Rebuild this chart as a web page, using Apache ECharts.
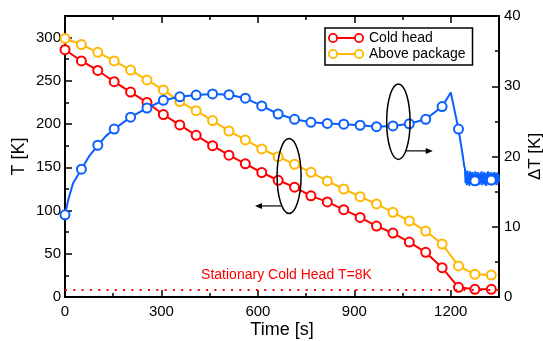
<!DOCTYPE html>
<html><head><meta charset="utf-8">
<script src="https://cdn.jsdelivr.net/npm/echarts@6/dist/echarts.min.js"></script>
<style>html,body{margin:0;padding:0;background:#fff}#c{width:543px;height:341px}</style>
</head><body><div id="c"></div>
<script>
// ---- data ----
const markerTime = [0,51,102,153,204,255,306,357,408,459,510,561,612,663,714,765,816,867,918,969,1020,1071,1122,1173,1224,1275,1326];
const coldHead = [286,273,262,249,237,225,211,199,187,175,164,154,144,135,127,117,110,101,92,82,74,63.5,51.7,33.9,11.2,8.9,8.9];
const abovePackage = [299,292,283,273,262.5,251,239.5,226,215.5,204,192,181.6,171.2,162.3,153.5,144.2,134.2,124.9,116,107.6,98,88,76.3,61.3,35.9,26.2,25.4];
const deltaTMarkers = [11.7,18.2,21.6,23.9,25.6,26.9,28.0,28.5,28.75,28.9,28.8,28.3,27.2,26.05,25.3,24.87,24.7,24.6,24.45,24.25,24.35,24.65,25.3,27.1,23.9,16.55,16.65];
// extra points of the continuous ΔT trace (between markers)
const deltaTExtraTime = [10,25,76,127,1200,1236,1242];
const deltaTExtraValue = [13.8,16.2,20.1,22.9,29.1,20.5,18.6];
// oscillating tail of the ΔT trace
const deltaTNoiseTime = [1244,1246,1248,1250,1252,1254,1256,1258,1260,1262,1264,1266,1268,1270,1272,1274,1276,1278,1280,1282,1284,1286,1288,1290,1292,1294,1296,1298,1300,1302,1304,1306,1308,1310,1312,1314,1316,1318,1320,1322,1324,1326,1328,1330,1332,1334,1336,1338,1340,1342,1344,1346,1348,1350];
const deltaTNoiseValue = [18.3,16.2,17.9,15.9,18.0,16.1,17.6,15.8,17.9,16.3,17.7,16.0,17.8,15.9,17.5,16.2,17.9,16.0,17.6,15.8,17.8,16.1,17.5,16.0,17.7,16.2,17.9,15.9,17.6,16.1,17.8,16.0,17.5,15.8,17.7,16.2,17.9,16.0,17.6,16.1,17.8,15.9,17.5,16.2,17.7,16.0,17.8,16.1,17.6,15.9,17.7,16.2,17.5,16.4];
const stationaryT = 8;
const xTickLabels = [0,300,600,900,1200];
const leftTickLabels = [0,50,100,150,200,250,300];
const rightTickLabels = [0,10,20,30,40];
// annotation anchors (data coordinates)
const ellipse1 = [697, 140];      // left axis
const arrow1 = [[672, 105.3], [591, 105.3]];
const ellipse2 = [1037, 24.95];   // right axis
const arrow2 = [[1061, 20.8], [1144, 20.8]];
const noteAnchor = [689, 25.4];   // centre of the stationary-head note (left axis)

// ---- build ----
const FONT = 'Liberation Sans';
const RED = '#ff0000', YEL = '#ffb700', BLUE = '#0b5fff';
const redData = markerTime.map((t,i)=>[t,coldHead[i]]);
const yelData = markerTime.map((t,i)=>[t,abovePackage[i]]);
const blueMarkers = markerTime.map((t,i)=>[t,deltaTMarkers[i]]);
const blueLine = blueMarkers.concat(
  deltaTExtraTime.map((t,i)=>[t,deltaTExtraValue[i]]),
  deltaTNoiseTime.map((t,i)=>[t,deltaTNoiseValue[i]])
).sort((a,b)=>a[0]-b[0]);

const axisBase = (extra) => Object.assign({
  type:'value', splitLine:{show:false},
  axisLine:{show:false, onZero:false},
  axisTick:{show:true, inside:true, length:7, lineStyle:{color:'#000', width:1.5}},
  axisLabel:{show:false}
}, extra);
const lineOn = {show:true, onZero:false, lineStyle:{color:'#000', width:2}};
const minorTick = {show:true, inside:true, length:4, lineStyle:{color:'#000', width:1.5}};
const labelStyle = (m)=>({show:true, fontFamily:FONT, fontSize:15, color:'#000', margin:m, showMaxLabel:false,
  formatter:(v)=>String(v)});

const legendIcon = 'path://M0,5A5,5,0,1,1,10,5A5,5,0,1,1,0,5ZM1.8,5A3.2,3.2,0,1,0,8.2,5A3.2,3.2,0,1,0,1.8,5ZM26,5A5,5,0,1,1,36,5A5,5,0,1,1,26,5ZM27.8,5A3.2,3.2,0,1,0,34.2,5A3.2,3.2,0,1,0,27.8,5ZM9.5,4L26.5,4L26.5,6L9.5,6Z';

const chart = echarts.init(document.getElementById('c'), null, {renderer:'canvas'});
chart.setOption({
  animation:false,
  backgroundColor:'#fff',
  grid:{left:65, right:44, top:16, bottom:44, containLabel:false, outerBoundsMode:'none'},
  legend:{
    data:['Cold head','Above package'], orient:'vertical', left:325, top:28,
    icon:legendIcon, itemWidth:36, itemHeight:10, itemGap:2,
    itemStyle:{borderWidth:0},
    textStyle:{fontFamily:FONT, fontSize:14, color:'#000'},
    borderColor:'#000', borderWidth:1.5, borderRadius:0, padding:[3,7,4,3], backgroundColor:'#fff',
    selectedMode:false
  },
  xAxis:[
    axisBase({position:'bottom', min:0, max:1350, interval:300, axisLine:lineOn,
      axisLabel:labelStyle(7),
      name:'Time [s]', nameLocation:'middle', nameGap:24, nameMoveOverlap:false,
      nameTextStyle:{fontFamily:FONT, fontSize:18, color:'#000'}}),
    axisBase({position:'bottom', min:0, max:1350, interval:150, axisTick:minorTick}),
    axisBase({position:'top', min:0, max:1350, interval:300, axisLine:lineOn}),
    axisBase({position:'top', min:0, max:1350, interval:150, axisTick:minorTick})
  ],
  yAxis:[
    axisBase({position:'left', min:0, max:325, interval:50, axisLine:lineOn,
      axisLabel:labelStyle(4),
      name:'T [K]', nameLocation:'middle', nameGap:37, nameMoveOverlap:false,
      nameTextStyle:{fontFamily:FONT, fontSize:18, color:'#000'}}),
    axisBase({position:'left', min:0, max:325, interval:25, axisTick:minorTick}),
    axisBase({position:'right', min:0, max:40, interval:10, axisLine:lineOn,
      axisLabel:Object.assign(labelStyle(5),{showMaxLabel:true}),
      name:'ΔT [K]', nameLocation:'middle', nameGap:28, nameMoveOverlap:false,
      nameTextStyle:{fontFamily:FONT, fontSize:17, color:'#000'}}),
    axisBase({position:'right', min:0, max:40, interval:5, axisTick:minorTick})
  ],
  series:[
    {name:'Cold head', type:'line', xAxisIndex:0, yAxisIndex:0, data:redData,
      symbol:'emptyCircle', symbolSize:9, showAllSymbol:true,
      lineStyle:{color:RED, width:2}, itemStyle:{color:RED, borderWidth:2},
      markLine:{silent:true, symbol:'none', animation:false,
        data:[{yAxis:stationaryT}],
        lineStyle:{color:RED, type:[2,6.3], width:2},
        label:{show:false}},
      z:3},
    {name:'Above package', type:'line', xAxisIndex:0, yAxisIndex:0, data:yelData,
      symbol:'emptyCircle', symbolSize:9, showAllSymbol:true,
      lineStyle:{color:YEL, width:2}, itemStyle:{color:YEL, borderWidth:2}, z:3},
    {name:'ΔT trace', type:'line', xAxisIndex:0, yAxisIndex:2, data:blueLine,
      showSymbol:false, symbol:'none', lineStyle:{color:BLUE, width:2}, z:4},
    {name:'ΔT', type:'scatter', xAxisIndex:0, yAxisIndex:2, data:blueMarkers,
      symbol:'circle', symbolSize:9,
      itemStyle:{color:'#fff', borderColor:BLUE, borderWidth:2, opacity:1}, z:5}
  ]
});

function arrowEls(a, yIdx){
  const s = chart.convertToPixel({xAxisIndex:0, yAxisIndex:yIdx}, a[0]);
  const e = chart.convertToPixel({xAxisIndex:0, yAxisIndex:yIdx}, a[1]);
  const dir = e[0] > s[0] ? 1 : -1;
  return [
    {type:'line', shape:{x1:s[0], y1:s[1], x2:e[0]-dir*5, y2:e[1]}, style:{stroke:'#000', lineWidth:1.2}, z:10},
    {type:'polygon', shape:{points:[[e[0],e[1]],[e[0]-dir*7,e[1]-3],[e[0]-dir*7,e[1]+3]]}, style:{fill:'#000'}, z:10}
  ];
}
const c1 = chart.convertToPixel({xAxisIndex:0, yAxisIndex:0}, ellipse1);
const c2 = chart.convertToPixel({xAxisIndex:0, yAxisIndex:2}, ellipse2);
const nt = chart.convertToPixel({xAxisIndex:0, yAxisIndex:0}, noteAnchor);
chart.setOption({graphic:[
  {type:'ellipse', shape:{cx:c1[0], cy:c1[1], rx:12, ry:37.5}, style:{fill:'none', stroke:'#000', lineWidth:1.5}, z:10},
  {type:'ellipse', shape:{cx:c2[0], cy:c2[1], rx:11.7, ry:37.7}, style:{fill:'none', stroke:'#000', lineWidth:1.5}, z:10},
  {type:'text', x:nt[0], y:nt[1], style:{text:'Stationary Cold Head T=' + stationaryT + 'K', fill:RED,
    font:'14px "Liberation Sans"', textAlign:'center', textVerticalAlign:'middle'}, z:10}
].concat(arrowEls(arrow1,0), arrowEls(arrow2,2))});
</script></body></html>
